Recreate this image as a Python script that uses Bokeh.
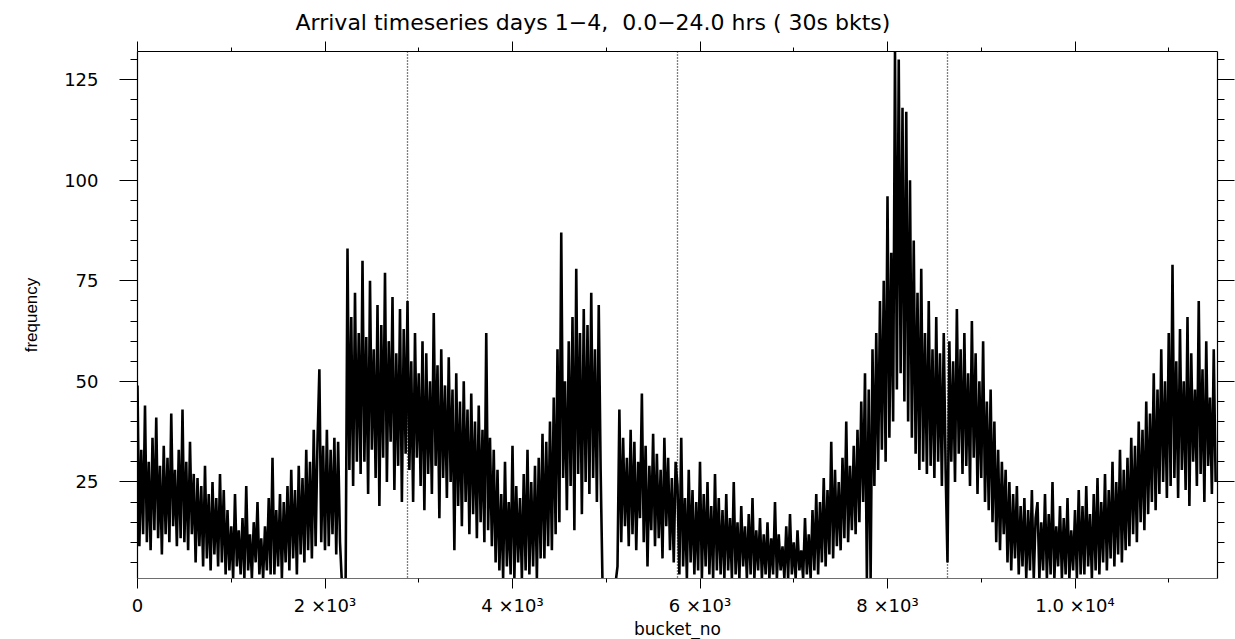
from bokeh.plotting import figure
from bokeh.models import (Range1d, LinearAxis, FixedTicker, Span,
                          CustomJSTickFormatter)
from bokeh.embed import file_html
from bokeh.resources import INLINE
import numpy as np

# arrivals per 30 s bucket, sampled every 20 buckets (24 samples = 4 hours)
bucket_step = 20
freq = [
    # day 1
    49, 9, 33, 12, 44, 10, 30, 8, 36, 13, 41, 11, 29, 7, 34, 12, 31, 10, 42, 14, 28, 9, 33, 11,
    43, 10, 30, 8, 35, 12, 27, 5, 26, 9, 24, 4, 29, 6, 22, 3, 25, 7, 21, 4, 27, 5, 23, 2,
    18, 3, 14, 1, 22, 4, 13, 2, 16, 1, 24, 3, 12, 1, 15, 5, 20, 2, 11, 1, 14, 3, 21, 2,
    31, 2, 18, 4, 22, 1, 20, 5, 24, 3, 28, 6, 23, 2, 29, 7, 26, 5, 33, 8, 30, 6, 38, 9,
    35, 53, 10, 34, 8, 38, 9, 33, 12, 36, 7, 35, 10, 0, 0, 0, 83, 28, 66, 24, 72, 30, 62, 27,
    80, 30, 61, 22, 75, 33, 58, 26, 69, 19, 64, 31, 77, 25, 60, 35, 71, 23, 57, 29, 68, 20, 63, 32,
    # day 2
    70, 28, 55, 20, 62, 31, 52, 24, 60, 18, 57, 27, 50, 22, 67, 29, 54, 16, 58, 26, 49, 21, 56, 25,
    48, 8, 52, 19, 45, 14, 50, 20, 43, 12, 47, 17, 40, 11, 44, 15, 38, 10, 62, 13, 36, 9, 33, 5,
    28, 3, 22, 1, 30, 4, 20, 2, 34, 1, 24, 5, 21, 1, 27, 3, 33, 2, 25, 4, 29, 1, 31, 6,
    37, 6, 35, 9, 40, 8, 46, 12, 58, 15, 87, 26, 50, 18, 60, 24, 66, 13, 78, 27, 62, 17, 68, 25,
    64, 22, 72, 26, 58, 20, 69, 28, 0, 0, 0, 0, 0, 0, 0, 0, 4, 43, 10, 36, 14, 31, 9, 38,
    12, 35, 8, 30, 16, 47, 10, 34, 4, 29, 13, 37, 9, 32, 11, 28, 6, 36, 14, 31, 8, 26, 5, 30,
    # day 3
    24, 2, 36, 4, 21, 1, 28, 5, 23, 2, 20, 3, 30, 1, 22, 4, 25, 2, 19, 1, 27, 3, 21, 2,
    18, 1, 22, 3, 16, 1, 25, 2, 15, 1, 19, 4, 14, 1, 17, 2, 21, 1, 13, 3, 16, 1, 12, 2,
    15, 1, 11, 2, 20, 1, 12, 3, 9, 1, 14, 1, 17, 2, 10, 1, 13, 3, 8, 1, 16, 2, 12, 1,
    18, 3, 22, 2, 20, 5, 26, 4, 23, 7, 35, 6, 28, 9, 25, 8, 31, 11, 40, 10, 29, 13, 34, 12,
    38, 15, 45, 20, 52, 1, 48, 1, 58, 24, 62, 28, 70, 33, 75, 30, 96, 36, 82, 40, 132, 48, 130, 52,
    118, 45, 117, 40, 100, 36, 85, 32, 72, 28, 78, 30, 62, 27, 70, 29, 58, 26, 66, 30, 57, 24, 62, 28,
    # day 4
    5, 60, 30, 55, 25, 68, 32, 58, 27, 62, 29, 52, 24, 65, 31, 57, 22, 50, 26, 60, 20, 45, 18, 48,
    15, 40, 10, 33, 8, 30, 12, 28, 5, 25, 3, 22, 6, 24, 2, 19, 4, 21, 1, 18, 3, 23, 1, 16,
    20, 1, 15, 3, 22, 1, 17, 2, 25, 1, 14, 4, 19, 1, 16, 2, 21, 1, 13, 3, 18, 1, 23, 2,
    19, 2, 24, 4, 17, 1, 22, 3, 26, 2, 20, 5, 27, 3, 23, 6, 30, 4, 25, 7, 33, 5, 28, 8,
    31, 9, 36, 12, 34, 10, 40, 15, 38, 13, 45, 17, 42, 20, 52, 18, 48, 22, 58, 25, 50, 21, 62, 24,
    79, 26, 55, 21, 63, 28, 50, 23, 66, 19, 57, 30, 48, 24, 70, 27, 53, 20, 60, 29, 46, 22, 58, 25,
]
bucket_no = list(np.arange(len(freq)) * bucket_step)

day_starts = [2880, 5760, 8640]
x_max = 11520
y_min, y_max = 1, 132

x_major = [0, 2000, 4000, 6000, 8000, 10000]
x_major_labels = ["0", "2 \u00d710\u00b3", "4 \u00d710\u00b3", "6 \u00d710\u00b3",
                  "8 \u00d710\u00b3", "1.0 \u00d710\u2074"]
x_minor = [1000, 3000, 5000, 7000, 9000, 11000]
y_major = [25, 50, 75, 100, 125]
y_minor = list(range(5, 131, 5))

FONT = "DejaVu Sans"
NB = "\u00a0"
title_text = ("Arrival timeseries days 1\u22124," + NB + NB + "0.0\u221224.0 hrs ("
              + NB + "30s bkts)")

p = figure(frame_width=1080, frame_height=527,
           x_range=Range1d(0, x_max), y_range=Range1d(y_min, y_max),
           output_backend="svg", toolbar_location=None,
           x_axis_location=None, y_axis_location=None,
           min_border_left=137, min_border_right=18,
           min_border_top=51, min_border_bottom=61,
           title=title_text)
p.title.align = "left"
p.title.offset = 158
p.title.text_font = FONT
p.title.text_font_size = "22px"
p.title.text_font_style = "normal"
p.title.text_color = "black"
p.title.standoff = 14
p.xgrid.visible = False
p.ygrid.visible = False
p.outline_line_color = None
p.background_fill_color = "white"
p.border_fill_color = "white"

xt = FixedTicker(ticks=x_major, minor_ticks=x_minor)
yt = FixedTicker(ticks=y_major, minor_ticks=y_minor)
blank = CustomJSTickFormatter(code="return ''")


def style(ax, tick_major, tick_minor):
    ax.major_tick_in = 0
    ax.minor_tick_in = 0
    ax.major_tick_out = tick_major
    ax.minor_tick_out = tick_minor
    ax.major_tick_line_color = "black"
    ax.minor_tick_line_color = "black"
    ax.axis_line_color = "black"
    ax.axis_line_width = 1.2
    ax.major_label_text_font = FONT
    ax.major_label_text_font_size = "18px"
    ax.major_label_text_color = "black"
    ax.axis_label_text_font = FONT
    ax.axis_label_text_font_style = "normal"
    ax.axis_label_text_color = "black"


bottom = LinearAxis(ticker=xt, axis_label="bucket_no")
style(bottom, 10, 4)
bottom.major_label_overrides = dict(zip(x_major, x_major_labels))
bottom.major_label_standoff = 6
bottom.axis_label_standoff = 0
bottom.axis_label_text_font_size = "17px"
bottom.axis_line_color = "#6e6e6e"
p.add_layout(bottom, "below")

top = LinearAxis(ticker=xt, formatter=blank)
style(top, 10, 4)
top.major_label_standoff = 0
top.major_label_text_font_size = "0px"
p.add_layout(top, "above")

left = LinearAxis(ticker=yt, axis_label="frequency")
style(left, 18, 7)
left.major_label_standoff = 21
left.axis_label_standoff = 20
left.axis_label_text_font = "Liberation Sans"
left.axis_label_text_font_size = "17px"
p.add_layout(left, "left")

right = LinearAxis(ticker=yt, formatter=blank)
style(right, 17, 7)
right.major_label_standoff = 0
right.major_label_text_font_size = "0px"
p.add_layout(right, "right")

# day boundaries
for d in day_starts:
    p.add_layout(Span(location=d, dimension="height", line_color="black",
                      line_width=1.3, line_dash="1 2"))

p.line(bucket_no, freq, line_color="black", line_width=2.6)

open("out.html", "w").write(file_html(p, INLINE))
